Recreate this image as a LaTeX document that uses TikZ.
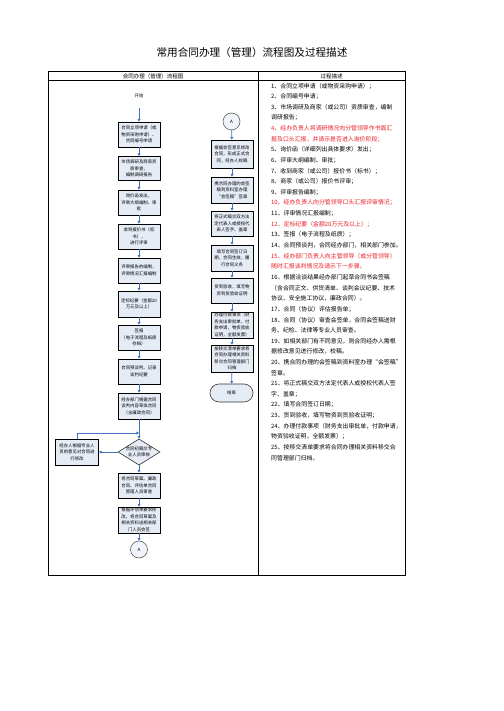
\documentclass[tikz,border=0pt]{standalone}
\usepackage{fontspec}
\setmainfont{Noto Sans CJK SC}
\usetikzlibrary{arrows.meta,shapes.geometric,shapes.misc,backgrounds}
\definecolor{arrowblue}{RGB}{68,114,196}
\definecolor{boxfill}{RGB}{230,236,246}
\definecolor{descred}{RGB}{235,30,40}
\tikzset{
  box/.style={draw=black, line width=0.8pt, fill=boxfill, minimum width=42pt, text width=40pt, align=center, inner sep=0pt, font=\fontsize{4.4}{6.5}\selectfont},
  arr/.style={draw=arrowblue, line width=0.8pt, -{Triangle[length=2.6pt,width=2.8pt]}},
  desc/.style={anchor=west, inner sep=0pt, font=\fontsize{5.9}{7}\selectfont},
  redline/.style={text=descred},
  conn/.style={circle, draw=black!70, line width=0.5pt, fill=boxfill!60, minimum size=17pt, inner sep=0pt, font=\fontsize{4.5}{5}\selectfont},
  tbl/.style={line width=1pt, draw=black},
}
\begin{document}
\begin{tikzpicture}[x=1pt,y=-1pt]
\useasboundingbox (0,0) rectangle (503,711);
\fill[white] (0,0) rectangle (503,711);

% title
\node[font=\fontsize{10.6}{12}\selectfont, inner sep=0pt] (title) at (252,52) {常用合同办理（管理）流程图及过程描述};

% table
\draw[tbl] (48,72) rectangle (405,575);
\draw[tbl] (48,81) -- (405,81);
\draw[tbl] (258,72) -- (258,575);
\node[font=\fontsize{5.5}{6}\selectfont, inner sep=0pt] (h1) at (153,76.5) {合同办理（管理）流程图};
\node[font=\fontsize{5.5}{6}\selectfont, inner sep=0pt] (h2) at (331.5,76.5) {过程描述};

% left column
\node[inner sep=0pt, minimum width=42pt, minimum height=25pt, font=\fontsize{4.4}{6.5}\selectfont] (start) at (139,95.5) {开始};
\begin{scope}[on background layer]
\draw[line width=0.6pt, draw=black!80, fill=boxfill] (start.west) -- ([xshift=8pt]start.north west) -- ([xshift=-8pt]start.north east) -- (start.east) -- ([xshift=-8pt]start.south east) -- ([xshift=8pt]start.south west) -- cycle;
\end{scope}
\node[box, minimum height=25pt] (b1) at (139,134.5) {合同立项申请（或\\物资采购申请）、\\合同编号申请};
\node[box, minimum height=24pt] (b2) at (139,168.5) {市场调研及商家资\\质审查，\\编制调研报告};
\node[box, minimum height=25pt] (b3) at (139,202.5) {询价函发出，\\评审大纲编制、审\\批};
\node[box, minimum height=25pt] (b4) at (139,236.5) {收到报价书（标\\书），\\进行评审};
\node[box, minimum height=25pt] (b5) at (139,270.5) {评审报告的编制，\\评审情况汇报编制};
\node[box, minimum height=26pt] (b6) at (139,304) {定标纪要（金额20\\万元及以上）};
\node[box, minimum height=25pt] (b7) at (139,337.5) {签报\\（电子流程及纸质\\存档）};
\node[box, minimum height=25pt] (b8) at (139,371.5) {合同预谈判、记录\\谈判纪要};
\node[box, minimum height=26pt] (b9) at (139,406) {经办部门根据合同\\谈判内容草拟合同\\（含廉政合同）};
\node[diamond, draw=black!80, line width=0.6pt, fill=boxfill, aspect=1.6, inner sep=0pt, minimum width=42pt, minimum height=26pt, align=center, font=\fontsize{4.4}{5.6}\selectfont] (dia) at (139,452) {合同初稿交专\\业人员审核};
\node[box, minimum width=43pt, minimum height=26pt] (side) at (77,452) {经办人根据专业人\\员的意见对合同进\\行修改};
\node[box, minimum height=25pt] (b10) at (139,485.5) {将合同草案、廉政\\合同、评估单合同\\管理人员审查};
\node[box, minimum height=26pt] (b11) at (139,520) {根据评估单要求修\\改，将合同草案及\\相关资料送相关部\\门人员会签};
\node[conn] (a1) at (139,549.5) {A};
\coordinate (join) at (139,433);

\draw[arr] (start) -- (b1);
\draw[arr] (b1) -- (b2);
\draw[arr] (b2) -- (b3);
\draw[arr] (b3) -- (b4);
\draw[arr] (b4) -- (b5);
\draw[arr] (b5) -- (b6);
\draw[arr] (b6) -- (b7);
\draw[arr] (b7) -- (b8);
\draw[arr] (b8) -- (b9);
\draw[arr] (b9) -- (dia);
\draw[arr] (side.north) |- (join);
\draw[arr] (dia.west) -- (side.east);
\draw[arr] (dia) -- (b10);
\draw[arr] (b10) -- (b11);
\draw[arr] (b11) -- (a1);

% right column
\node[conn] (a2) at (231.5,121.5) {A};
\node[box, minimum height=28pt] (r1) at (232,154) {根据会签意见修改\\合同，形成正式合\\同，经办人校稿};
\node[box, minimum height=26pt] (r2) at (232,190) {携合同办理的会签\\稿到资料室办理\\“会签稿”签章};
\node[box, minimum height=25pt] (r3) at (232,223.5) {将正式稿交双方法\\定代表人或授权代\\表人签字、盖章};
\node[box, minimum height=26pt] (r4) at (232,258) {填写合同签订日\\期，合同生效，履\\行合同义务};
\node[box, minimum height=25pt] (r5) at (232,290.5) {货到验收，填写物\\资到货验收证明};
\node[box, minimum height=26pt] (r6) at (232,325) {办理付款事项（财\\务支出审批单，付\\款申请，物资验收\\证明，全额发票）};
\node[box, minimum height=27pt] (r7) at (232,358.5) {按移交清单要求将\\合同办理相关资料\\移交合同管理部门\\归档};
\node[rounded rectangle, draw=black!80, line width=0.6pt, fill=boxfill, minimum width=43pt, minimum height=18pt, inner sep=0pt, font=\fontsize{4.4}{6.5}\selectfont] (fin) at (231.5,393) {结束};

\draw[arr] (a2) -- (r1);
\draw[arr] (r1) -- (r2);
\draw[arr] (r2) -- (r3);
\draw[arr] (r3) -- (r4);
\draw[arr] (r4) -- (r5);
\draw[arr] (r5) -- (r6);
\draw[arr] (r6) -- (r7);
\draw[arr] (r7) -- (fin);

% description
\node[desc] (d1) at (271,86.0) {1、合同立项申请（或物资采购申请）；};
\node[desc] (d2) at (271,96.6) {2、合同编号申请；};
\node[desc] (d3) at (271,107.3) {3、市场调研及商家（或公司）资质审查，编制};
\node[desc] (d3b) at (271,117.9) {调研报告；};
\node[desc, redline] (d4) at (271,128.5) {4、经办负责人将调研情况向分管领导作书面汇};
\node[desc, redline] (d4b) at (271,139.2) {报及口头汇报，并请示是否进入询价阶段；};
\node[desc] (d5) at (271,149.8) {5、询价函（详细列出具体要求）发出；};
\node[desc] (d6) at (271,160.4) {6、评审大纲编制、审批；};
\node[desc] (d7) at (271,171.0) {7、收到商家（或公司）报价书（标书）；};
\node[desc] (d8) at (271,181.7) {8、商家（或公司）报价书评审；};
\node[desc] (d9) at (271,192.3) {9、评审报告编制；};
\node[desc, redline] (d10) at (271,202.9) {10、经办负责人向分管领导口头汇报评审情况；};
\node[desc] (d11) at (271,213.6) {11、评审情况汇报编制；};
\node[desc, redline] (d12) at (271,224.2) {12、定标纪要（金额20万元及以上）；};
\node[desc] (d13) at (271,234.8) {13、签报（电子流程及纸质）；};
\node[desc] (d14) at (271,245.5) {14、合同预谈判，合同经办部门，相关部门参加。};
\node[desc, redline] (d15) at (271,256.1) {15、经办部门负责人向主管领导（或分管领导）};
\node[desc, redline] (d15b) at (271,266.7) {随时汇报谈判情况及请示下一步骤。};
\node[desc] (d16) at (271,277.3) {16、根据洽谈结果经办部门起草合同书会签稿};
\node[desc] (d16b) at (271,288.0) {（含合同正文、供货清单、谈判会议纪要、技术};
\node[desc] (d16c) at (271,298.6) {协议、安全施工协议、廉政合同）。};
\node[desc] (d17) at (271,309.2) {17、合同（协议）评估报告单；};
\node[desc] (d18) at (271,319.9) {18、合同（协议）审查会签单，合同会签稿送财};
\node[desc] (d18b) at (271,330.5) {务、纪检、法律等专业人员审查。};
\node[desc] (d19) at (271,341.1) {19、如相关部门有不同意见，则合同经办人需根};
\node[desc] (d19b) at (271,351.8) {据修改意见进行修改，校稿。};
\node[desc] (d20) at (271,362.4) {20、携合同办理的会签稿到资料室办理“会签稿”};
\node[desc] (d20b) at (271,373.0) {签章。};
\node[desc] (d21) at (271,383.6) {21、将正式稿交双方法定代表人或授权代表人签};
\node[desc] (d21b) at (271,394.3) {字、盖章；};
\node[desc] (d22) at (271,404.9) {22、填写合同签订日期；};
\node[desc] (d23) at (271,415.5) {23、货到验收，填写物资到货验收证明；};
\node[desc] (d24) at (271,426.2) {24、办理付款事项（财务支出审批单，付款申请，};
\node[desc] (d24b) at (271,436.8) {物资验收证明，全额发票）；};
\node[desc] (d25) at (271,447.4) {25、按移交清单要求将合同办理相关资料移交合};
\node[desc] (d25b) at (271,458.0) {同管理部门归档。};
\end{tikzpicture}
\end{document}
